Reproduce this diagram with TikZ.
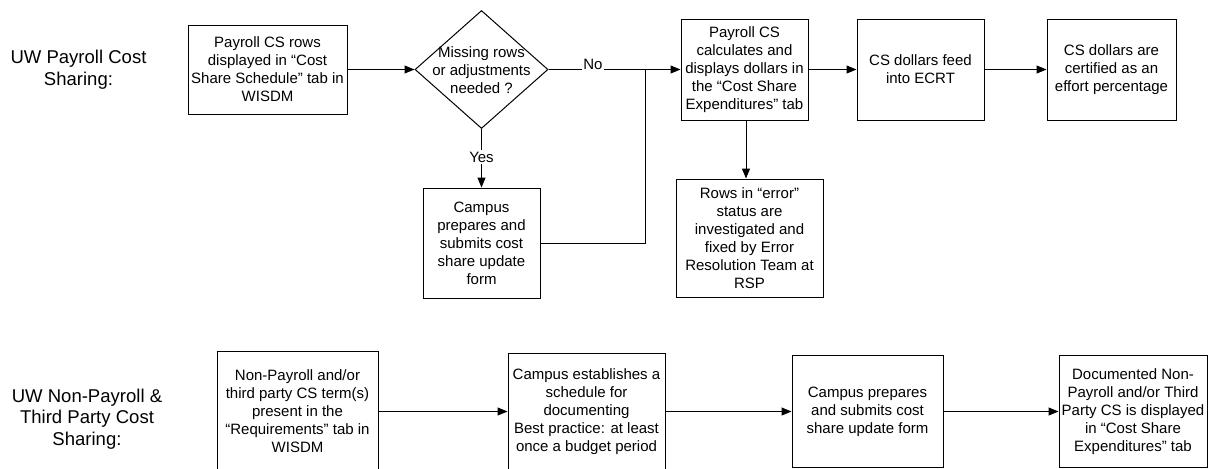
\documentclass[tikz,border=0pt]{standalone}
\usepackage{fontspec}
\setmainfont{Liberation Sans}
\usetikzlibrary{arrows.meta,shapes.geometric}
\tikzset{
  box/.style={draw, line width=0.75pt, align=center, inner sep=0pt,
    font=\fontsize{11.25pt}{13.5pt}\selectfont},
  dia/.style={draw, line width=0.75pt, diamond, inner sep=0pt,
    minimum width=99.75pt, minimum height=88.5pt},
  txt/.style={align=center, inner sep=0pt, font=\fontsize{11.25pt}{13.5pt}\selectfont},
  lbl/.style={align=center, inner sep=0pt, font=\fontsize{13.9pt}{16.2pt}\selectfont},
  conn/.style={line width=0.75pt},
  arr/.style={line width=0.75pt, -{Triangle[length=7.5pt,width=6pt]}},
  edgelbl/.style={fill=white, inner sep=1pt, font=\fontsize{11.25pt}{13.5pt}\selectfont}
}
\begin{document}
\begin{tikzpicture}[x=0.75pt,y=-0.75pt]
\useasboundingbox (0,0) rectangle (1211,468);
\clip (0,0) rectangle (1211,468);
% labels
\node[lbl] (l1) at (78.5,70) {UW Payroll Cost\\Sharing:};
\node[lbl] (l2) at (87,419) {UW Non-Payroll \&\\Third Party Cost\\Sharing:};
% top row
\node[box, minimum width=119.25pt, minimum height=66.75pt] (a1) at (267.5,69.5)
  {Payroll CS rows\\displayed in “Cost\\Share Schedule” tab in\\WISDM};
\node[dia] (d) at (481.5,69.5) {};
\node[txt] (dt) at (481.5,70) {Missing rows\\or adjustments\\needed ?};
\node[box, minimum width=87.75pt, minimum height=82.5pt] (cp) at (481.5,243)
  {Campus\\prepares and\\submits cost\\share update\\form};
\node[box, minimum width=95.25pt, minimum height=75.75pt] (a3) at (744.5,69.5)
  {Payroll CS\\calculates and\\displays dollars in\\the “Cost Share\\Expenditures” tab};
\node[box, minimum width=95.25pt, minimum height=75.75pt] (a4) at (920.5,69.5)
  {CS dollars feed\\into ECRT};
\node[box, minimum width=96.75pt, minimum height=75.75pt] (a5) at (1111.5,69.5)
  {CS dollars are\\certified as an\\effort percentage};
\node[box, minimum width=110.25pt, minimum height=88.5pt] (er) at (749.5,238)
  {Rows in “error”\\status are\\investigated and\\fixed by Error\\Resolution Team at\\RSP};
\coordinate (j) at (645,69.5);
% top connectors
\draw[arr] (a1.east) -- (d.west);
\draw[conn] (d.east) -- (j);
\node[edgelbl] (no) at (593,64) {No};
\draw[arr] (j) -- (a3.west);
\draw[arr] (d.south) -- (cp.north);
\node[edgelbl] (yes) at (481.5,157) {Yes};
\draw[conn] (cp.east) -| (j);
\draw[arr] (a3.east) -- (a4.west);
\draw[arr] (a4.east) -- (a5.west);
\draw[arr] (a3.south -| 746,0) -- (er.north -| 746,0);
% bottom row
\node[box, minimum width=120.75pt, minimum height=90pt] (b1) at (297.5,411.5)
  {Non-Payroll and/or\\third party CS term(s)\\present in the\\“Requirements” tab in\\WISDM};
\node[box, minimum width=117.75pt, minimum height=87pt] (b2) at (586.5,411.5)
  {Campus establishes a\\schedule for\\documenting\\Best practice: at least\\once a budget period};
\node[box, minimum width=113.25pt, minimum height=84pt] (b3) at (867.5,411.5)
  {Campus prepares\\and submits cost\\share update form};
\node[box, minimum width=111pt, minimum height=84pt] (b4) at (1133,411.5)
  {Documented Non-\\Payroll and/or Third\\Party CS is displayed\\in “Cost Share\\Expenditures” tab};
\draw[arr] (b1.east) -- (b2.west);
\draw[arr] (b2.east) -- (b3.west);
\draw[arr] (b3.east) -- (b4.west);
\end{tikzpicture}
\end{document}
